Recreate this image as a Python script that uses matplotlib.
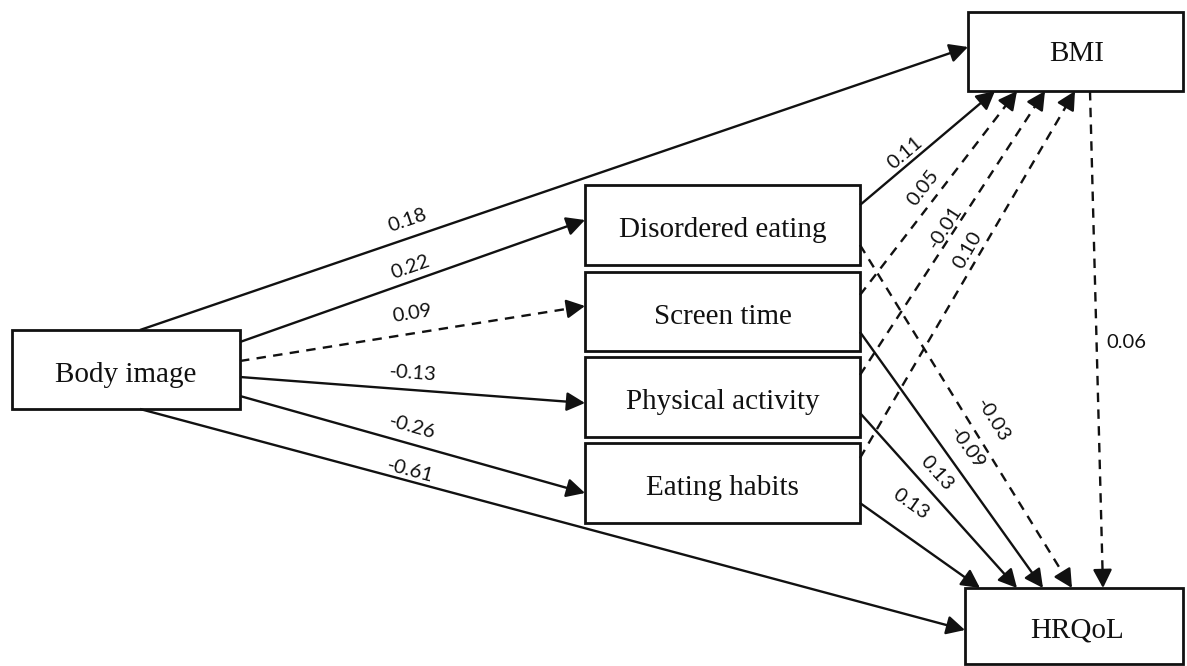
import numpy as np
import matplotlib
matplotlib.use("Agg")
import matplotlib.pyplot as plt
from matplotlib.patches import Rectangle

# path model: nodes, edges, standardised coefficients
nodes = ["Body image", "Disordered eating", "Screen time", "Physical activity",
         "Eating habits", "BMI", "HRQoL"]
sources = ["Body image", "Body image", "Body image", "Body image", "Body image", "Body image",
           "Disordered eating", "Screen time", "Physical activity", "Eating habits",
           "Disordered eating", "Screen time", "Physical activity", "Eating habits", "BMI"]
targets = ["BMI", "Disordered eating", "Screen time", "Physical activity", "Eating habits", "HRQoL",
           "BMI", "BMI", "BMI", "BMI",
           "HRQoL", "HRQoL", "HRQoL", "HRQoL", "HRQoL"]
coefs = ["0.18", "0.22", "0.09", "-0.13", "-0.26", "-0.61",
         "0.11", "0.05", "-0.01", "0.10",
         "-0.03", "-0.09", "0.13", "0.13", "0.06"]
significant = [True, True, False, True, True, True,
               True, False, False, False,
               False, True, True, True, False]

# layout (pixel space, y down)
boxes = {
    "Body image": (12, 330, 240, 409),
    "Disordered eating": (585, 185, 860, 265),
    "Screen time": (585, 272, 860, 351),
    "Physical activity": (585, 357, 860, 437),
    "Eating habits": (585, 443, 860, 523),
    "BMI": (968, 12, 1183, 91),
    "HRQoL": (965, 588, 1183, 664),
}
text_pos = {"BMI": (1077, 54), "HRQoL": (1077, 630)}
starts = [(140, 330), (240, 342), (240, 361), (240, 377), (240, 396), (140, 409),
          (860, 205), (860, 295), (860, 375), (860, 458),
          (860, 245), (860, 332), (860, 413), (860, 503), (1090, 91)]
ends = [(968, 47), (585, 220), (585, 306), (585, 403), (585, 493), (965, 630),
        (995, 91), (1017, 91), (1045, 91), (1075, 91),
        (1072, 588), (1043, 588), (1017, 588), (980, 588), (1103, 588)]
label_pos = [(407, 220), (410, 267), (412, 313), (413, 373), (412, 427), (410, 471),
             (905, 153), (923, 188), (945, 227), (968, 250),
             (993, 420), (967, 448), (937, 473), (911, 504), (1126, 343)]

W, H = 1187, 666
fig = plt.figure(figsize=(W / 100, H / 100), dpi=100)
ax = fig.add_axes([0, 0, 1, 1])
ax.set_xlim(0, W)
ax.set_ylim(H, 0)
ax.axis("off")

lw = 1.7
head = 14  # px
for name in nodes:
    x0, y0, x1, y1 = boxes[name]
    ax.add_patch(Rectangle((x0, y0), x1 - x0, y1 - y0, fill=False,
                           edgecolor="#111111", lw=2.0, zorder=3))
    tx, ty = text_pos.get(name, ((x0 + x1) / 2, (y0 + y1) / 2 + 5))
    ax.text(tx, ty, name, ha="center", va="center", fontsize=21,
            family="Liberation Serif", color="#111111", zorder=4)

for s, e, c, sig, lp in zip(starts, ends, coefs, significant, label_pos):
    s = np.array(s, float)
    e = np.array(e, float)
    u = (e - s) / np.hypot(*(e - s))
    mid = e - u * (head + 1)
    ls = "-" if sig else (0, (4.0, 3.1))
    ax.plot([s[0], mid[0]], [s[1], mid[1]], color="#111111", lw=lw, ls=ls,
            solid_capstyle="butt", zorder=2)
    ax.annotate("", xy=e, xytext=e - u * (head + 3),
                arrowprops=dict(arrowstyle="-|>,head_length=0.62,head_width=0.32",
                                mutation_scale=18, color="#111111", lw=lw,
                                shrinkA=0, shrinkB=0), zorder=2)
    if c == "0.06":
        rot = 0
    else:
        rot = np.degrees(np.arctan2(-(e[1] - s[1]), e[0] - s[0]))
    ax.text(lp[0], lp[1], c, ha="center", va="center", rotation=rot,
            rotation_mode="anchor", fontsize=14.5, family="Lato", color="#111111")

fig.savefig("out.png", dpi=100, facecolor="white")
